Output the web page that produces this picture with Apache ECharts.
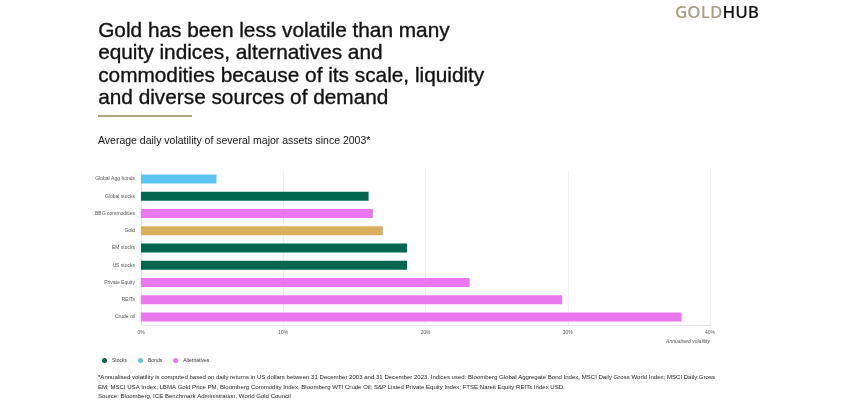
<!DOCTYPE html>
<html><head><meta charset="utf-8">
<script src="https://cdn.jsdelivr.net/npm/echarts@6/dist/echarts.min.js"></script>
<style>html,body{margin:0;padding:0;background:#fff}#c{width:855px;height:401px}</style>
</head><body><div id="c"></div>
<script>
var categories = ['Global Agg bonds','Global stocks','BBG commodities','Gold','EM stocks','US stocks','Private Equity','REITs','Crude oil'];
var values = [5.3, 16.0, 16.3, 17.0, 18.7, 18.7, 23.1, 29.6, 38.0];
var groups = ['Bonds','Stocks','Alternatives','Gold','Stocks','Stocks','Alternatives','Alternatives','Alternatives'];
var xTicks = [0, 10, 20, 30, 40];
var groupNames = ['Stocks','Bonds','Alternatives','Gold'];
var colors = {Stocks:'#00674f', Bonds:'#5cc4f2', Alternatives:'#ea77ef', Gold:'#d9ae5d'};

var chart = echarts.init(document.getElementById('c'));
var FONT = 'Liberation Sans, Arial, sans-serif';
var series = groupNames.map(function(g){
  return {
    name: g, type: 'bar', stack: 'all', barWidth: 9,
    itemStyle: {color: colors[g]},
    data: values.map(function(v,i){ return groups[i]===g ? v : '-'; })
  };
});
chart.setOption({
  animation: false,
  textStyle: {fontFamily: FONT},
  grid: {left: 141, right: 145, top: 170.5, bottom: 75.5},
  legend: {
    data: ['Stocks','Bonds','Alternatives'], left: 97, top: 353, icon: 'circle',
    itemWidth: 5, itemHeight: 5, itemGap: 11,
    textStyle: {fontSize: 5, color: '#333', fontFamily: FONT}
  },
  xAxis: {
    type: 'value', min: 0, max: 40, interval: 10,
    axisLine: {show: true, lineStyle: {color: '#e3e3e3'}},
    axisTick: {show: false},
    splitLine: {show: true, lineStyle: {color: '#f0f0f0'}},
    axisLabel: {fontSize: 5, color: '#555', margin: 5, formatter: function(v){return v+'%';}}
  },
  yAxis: {
    type: 'category', data: categories, inverse: true,
    axisLine: {show: true, lineStyle: {color: '#e3e3e3'}},
    axisTick: {show: false},
    axisLabel: {fontSize: 5, color: '#555', margin: 6}
  },
  series: series,
  graphic: [
    {type:'text', left: 98, top: 20, style:{text:'Gold has been less volatile than many\nequity indices, alternatives and\ncommodities because of its scale, liquidity\nand diverse sources of demand', font:'20.8px '+FONT, fill:'#111', stroke:'#111', lineWidth:0.35, lineHeight: 22.5}},
    {type:'rect', shape:{x:98, y:115, width:94, height:2}, style:{fill:'#b0a47f'}},
    {type:'text', left: 98, top: 136, style:{text:'Average daily volatility of several major assets since 2003*', font:'10.5px '+FONT, fill:'#111'}},
    {type:'text', left: 675, top: 5, style:{rich:{a:{fontSize:17, fontWeight:600, fill:'#a8a183', fontFamily:'Open Sans'}, b:{fontSize:17, fontWeight:600, fill:'#151515', fontFamily:'Open Sans'}}, text:'{a|GOLD}{b|HUB}'}},
    {type:'text', right: 145, top: 339, style:{text:'Annualised volatility', font:'italic 5px '+FONT, fill:'#555', align:'right'}},
    {type:'text', left: 98, top: 373, style:{text:'*Annualised volatility is computed based on daily returns in US dollars between 31 December 2003 and 31 December 2023. Indices used: Bloomberg Global Aggregate Bond Index, MSCI Daily Gross World Index; MSCI Daily Gross\nEM; MSCI USA Index; LBMA Gold Price PM, Bloomberg Commodity Index, Bloomberg WTI Crude Oil; S&P Listed Private Equity Index; FTSE Nareit Equity REITs Index USD.\nSource: Bloomberg, ICE Benchmark Administration, World Gold Council', font:'6.05px '+FONT, fill:'#222', lineHeight: 9.5}}
  ]
});
</script></body></html>
